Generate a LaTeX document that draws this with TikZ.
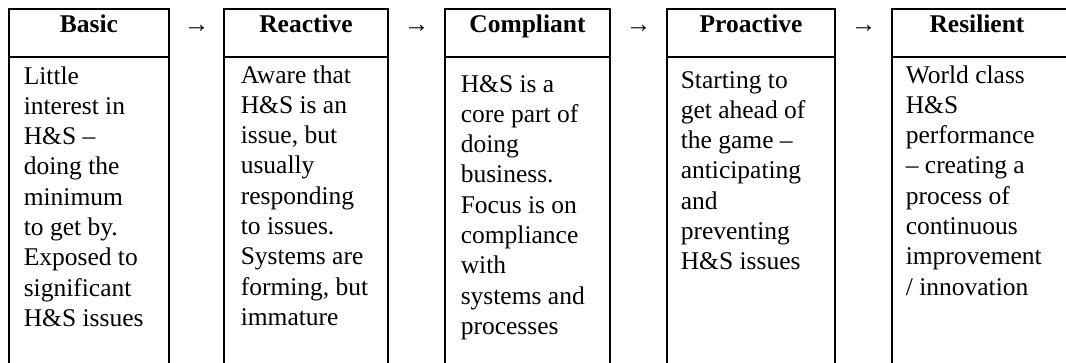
\documentclass[tikz,border=0pt]{standalone}
\usepackage{fontspec}
\setmainfont{Liberation Serif}
\begin{document}
\begin{tikzpicture}[x=1pt,y=-1pt,line width=1.6pt,
  head/.style={font=\fontsize{25.5}{30.3}\selectfont\bfseries,anchor=base,inner sep=0pt},
  body/.style={font=\fontsize{25.5}{30.3}\selectfont,anchor=north west,align=left,inner sep=0pt},
  arr/.style={font=\fontsize{25.5}{30.3}\selectfont,anchor=base,inner sep=0pt}]
\useasboundingbox (0,0) rectangle (1066,363);
\clip (0,0) rectangle (1066,363);
%Basic
\draw (9,9) rectangle (169,57);
\draw (9,57) rectangle (169,400);
\node[head] (hBasic) at (89,33) {Basic};
\node[body] (bBasic) at (23,62) {\strut Little\\interest in\\H\&S --\\doing the\\minimum\\to get by.\\Exposed to\\significant\\H\&S issues};
\node[arr] (aOne) at (196.5,33) {→};
%Reactive
\draw (224,9) rectangle (388,57);
\draw (224,57) rectangle (388,400);
\node[head] (hReactive) at (306,33) {Reactive};
\node[body] (bReactive) at (240,61) {\strut Aware that\\H\&S is an\\issue, but\\usually\\responding\\to issues.\\Systems are\\forming, but\\immature};
\node[arr] (aTwo) at (416.5,33) {→};
%Compliant
\draw (445,9) rectangle (610,57);
\draw (445,57) rectangle (610,400);
\node[head] (hCompliant) at (527.5,33) {Compliant};
\node[body] (bCompliant) at (460,70) {\strut H\&S is a\\core part of\\doing\\business.\\Focus is on\\compliance\\with\\systems and\\processes};
\node[arr] (aThree) at (638.5,33) {→};
%Proactive
\draw (667,9) rectangle (835,57);
\draw (667,57) rectangle (835,400);
\node[head] (hProactive) at (751,33) {Proactive};
\node[body] (bProactive) at (680,66) {\strut Starting to\\get ahead of\\the game --\\anticipating\\and\\preventing\\H\&S issues};
\node[arr] (aFour) at (863.5,33) {→};
%Resilient
\draw (892,9) rectangle (1072,57);
\draw (892,57) rectangle (1072,400);
\node[head] (hResilient) at (977,33) {Resilient};
\node[body] (bResilient) at (905,61) {\strut World class\\H\&S\\performance\\-- creating a\\process of\\continuous\\improvement\\/ innovation};
\end{tikzpicture}
\end{document}
